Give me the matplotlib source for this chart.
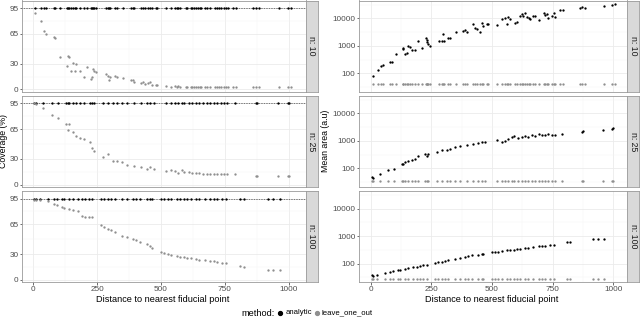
import numpy as np
import matplotlib
matplotlib.use("Agg")
import matplotlib.pyplot as plt
from matplotlib.lines import Line2D

plt.rcParams['font.family'] = ['Liberation Sans', 'DejaVu Sans']

# ---------------- data ----------------
facet_labels = ["n: 10", "n: 25", "n: 100"]

dist_n10 = [8, 31, 42, 49, 80, 87, 104, 132, 135, 142, 149, 154, 162, 169, 183, 197, 210,
            228, 231, 234, 238, 245, 283, 293, 297, 302, 320, 327, 353, 381, 389, 396,
            423, 430, 437, 451, 458, 465, 479, 485, 520, 541, 554, 561, 568, 575, 596,
            603, 616, 623, 630, 637, 644, 651, 658, 671, 678, 692, 713, 720, 726, 733,
            747, 754, 761, 781, 795, 861, 871, 884, 963, 995, 1008]
cov_loo_n10 = [89, 80, 68, 65, 61, 60.5, 37.5, 27, 39.5, 38.4, 21, 31, 21, 29.7, 22, 15, 26.5,
               12, 15, 24, 21, 20, 18, 15.8, 11, 15, 16, 14, 13, 11, 11.5, 8,
               7.5, 8.5, 6.5, 7, 8, 5, 4.5, 5, 4, 3.2, 3.5, 3, 3.3, 2.8, 3,
               3.2, 2.8, 3, 3.1, 2.7, 3, 2.9, 3.2, 2.8, 3, 2.6, 2.8, 3, 2.7, 2.9,
               2.6, 2.8, 2.7, 2.6, 2.7, 2.6, 2.5, 2.6, 2.5, 2.5, 2.4]
area_an_n10 = [81, 132, 190, 200, 250, 250, 500, 750, 810, 500, 530, 1000, 930, 700, 700, 1480, 810,
               1950, 1620, 1410, 1120, 1000, 1540, 1540, 2620, 1540, 1870, 1960, 3160, 3450, 3750, 3100,
               6000, 4300, 4100, 3100, 6900, 5400, 6000, 6200, 5700, 9400, 10000, 6000, 11000, 9400, 6700,
               7100, 12000, 14000, 12500, 16000, 11000, 10000, 9400, 12500, 12000, 8700, 15000, 13000, 14000, 10000,
               12500, 16000, 11000, 20000, 20000, 23000, 25000, 24500, 29000, 31000, 32000]

dist_n25 = [4, 11, 38, 73, 96, 128, 135, 142, 155, 169, 183, 197, 224, 231, 238, 272, 293, 314,
            327, 348, 369, 396, 423, 444, 458, 472, 520, 541, 554, 568, 582, 589, 609, 623,
            637, 650, 664, 678, 692, 706, 719, 733, 747, 760, 788, 871, 877, 957, 995, 1001]
cov_loo_n25 = [95, 94, 90, 82, 78.5, 70.6, 64, 70.6, 62, 57, 55, 53, 50, 43, 39, 32, 36, 28,
               27.4, 26, 23, 21.6, 20, 18.5, 20.5, 18, 15.4, 17, 15.4, 14, 17, 15, 15, 13,
               13, 13.5, 12.5, 12.5, 12, 12.5, 12.5, 12, 12.5, 12, 12, 10.5, 10.5, 9.5, 9.5, 9.5]
area_an_n25 = [50, 46, 65, 87, 97, 140, 150, 170, 185, 200, 225, 280, 325, 280, 340, 410, 470, 490,
               530, 590, 640, 700, 810, 860, 930, 930, 1050, 930, 980, 1230, 1380, 1480, 1300, 1450,
               1550, 1450, 1650, 1550, 1750, 1600, 1700, 1850, 1650, 1700, 1750, 2150, 2300, 2600, 2800, 2850]

dist_n100 = [4, 11, 25, 59, 80, 93, 114, 121, 142, 155, 176, 190, 204, 217, 231, 265, 279, 293,
             306, 320, 348, 369, 389, 403, 417, 444, 458, 465, 499, 513, 527, 541, 561, 575,
             589, 602, 616, 637, 650, 671, 692, 706, 719, 740, 754, 809, 823, 918, 939, 964]
cov_loo_n100 = [94, 94, 93, 92, 89, 87, 85.5, 84, 83, 82, 80.5, 75, 74, 73, 73.5, 64, 62, 60,
                58, 55.6, 51, 50, 47.5, 46, 44, 41.6, 40, 37.7, 33, 31, 30.5, 29, 28, 27,
                26.5, 25.5, 25, 24, 23.5, 23, 22, 21.5, 21, 20, 19.5, 15.5, 14.4, 11.7, 11.7, 11.7]
area_an_n100 = [39, 37, 39, 46, 51, 55, 60, 58, 66, 69, 76, 79, 83, 86, 89, 107, 113, 120,
                128, 135, 150, 160, 175, 190, 205, 215, 230, 225, 263, 260, 275, 295, 310, 310,
                325, 335, 350, 370, 370, 400, 430, 450, 450, 470, 490, 590, 620, 760, 780, 780]

cov_analytic = [95, 95, 95]          # analytic coverage per facet
area_loo = [40, 35, 28]              # leave-one-out mean area per facet

dists = [dist_n10, dist_n25, dist_n100]
cov_loo = [cov_loo_n10, cov_loo_n25, cov_loo_n100]
area_an = [area_an_n10, area_an_n25, area_an_n100]

x_ticks = [0, 250, 500, 750, 1000]
cov_ticks = [0, 30, 65, 95]
area_ticks = [100, 1000, 10000]

# ---------------- style ----------------
W, H = 640, 319
fig = plt.figure(figsize=(W / 100, H / 100), dpi=100)

BLACK = '#000000'
GREY_PT = '#8f8f8f'
BORDER = '#9a9a9a'
STRIP = '#d9d9d9'
GRID_MAJ = '#ebebeb'
GRID_MIN = '#f4f4f4'
TICKCOL = '#4d4d4d'
TICK_FS = 5.9

rows_px = [(0.5, 91.7), (95.7, 186.9), (190.9, 282.1)]
left_px = (22, 305.5)
right_px = (359, 627.3)
strip_l = (305.5, 317.5)
strip_r = (627.3, 639.3)


def fx(px):
    return px / W


def rect(xr, yr):
    return [fx(xr[0]), 1 - yr[1] / H, fx(xr[1] - xr[0]), (yr[1] - yr[0]) / H]


def style_axes(ax):
    ax.set_facecolor('white')
    for s in ax.spines.values():
        s.set_color(BORDER)
        s.set_linewidth(0.6)
    ax.tick_params(axis='both', length=1.8, width=0.5, color='#333333', pad=0.8,
                   labelsize=TICK_FS, labelcolor=TICKCOL)
    ax.set_axisbelow(True)
    ax.grid(which='major', color=GRID_MAJ, lw=0.6)
    ax.grid(which='minor', color=GRID_MIN, lw=0.35)
    ax.tick_params(which='minor', length=0)


def add_strip(xr, yr, label):
    sax = fig.add_axes(rect(xr, yr))
    sax.set_facecolor(STRIP)
    sax.set_xticks([])
    sax.set_yticks([])
    for s in sax.spines.values():
        s.set_color(BORDER)
        s.set_linewidth(0.6)
    sax.text(0.5, 0.5, label, rotation=-90, ha='center', va='center',
             fontsize=6.3, color='#1a1a1a', transform=sax.transAxes)


for i in range(3):
    d = np.array(dists[i])
    # ---- left: coverage ----
    ax = fig.add_axes(rect(left_px, rows_px[i]))
    style_axes(ax)
    ax.axhline(95, color='black', lw=0.5, ls=(0, (1, 1.4)), zorder=2)
    ax.scatter(d, np.full(len(d), cov_analytic[i]), s=2.8, c=BLACK, linewidths=0, zorder=3)
    ax.scatter(d, cov_loo[i], s=2.8, c=GREY_PT, linewidths=0, zorder=3)
    ax.set_xlim(-43.5, 1065)
    ax.set_ylim(-2.8, 104.1)
    ax.set_yticks(cov_ticks)
    ax.set_yticks([15, 47.5, 80], minor=True)
    ax.set_xticks(x_ticks)
    ax.set_xticks([125, 375, 625, 875], minor=True)
    if i < 2:
        ax.tick_params(axis='x', labelbottom=False, length=0)
    add_strip(strip_l, rows_px[i], facet_labels[i])

    # ---- right: mean area ----
    ax2 = fig.add_axes(rect(right_px, rows_px[i]))
    style_axes(ax2)
    ax2.set_yscale('log')
    ax2.scatter(d, area_an[i], s=2.8, c=BLACK, linewidths=0, zorder=3)
    ax2.scatter(d, np.full(len(d), area_loo[i]), s=2.8, c=GREY_PT, linewidths=0, zorder=3)
    ax2.set_xlim(-48, 1058)
    ax2.set_ylim(21.4, 44400)
    ax2.set_yticks(area_ticks)
    ax2.set_yticklabels([str(t) for t in area_ticks])
    ax2.set_yticks([10 ** 1.5, 10 ** 2.5, 10 ** 3.5, 10 ** 4.5], minor=True)
    ax2.yaxis.set_minor_formatter(matplotlib.ticker.NullFormatter())
    ax2.set_xticks(x_ticks)
    ax2.set_xticks([125, 375, 625, 875], minor=True)
    if i < 2:
        ax2.tick_params(axis='x', labelbottom=False, length=0)
    add_strip(strip_r, rows_px[i], facet_labels[i])

# axis titles
fig.text(fx(163), 1 - 299 / H, "Distance to nearest fiducial point", ha='center', va='center',
         fontsize=6.6, color='black')
fig.text(fx(492), 1 - 299 / H, "Distance to nearest fiducial point", ha='center', va='center',
         fontsize=6.6, color='black')
fig.text(fx(3.8), 1 - 141 / H, "Coverage (%)", rotation=90, ha='center', va='center',
         fontsize=6.3, color='black')
fig.text(fx(325), 1 - 141 / H, "Mean area (a.u)", rotation=90, ha='center', va='center',
         fontsize=6.3, color='black')

# legend
ly = 1 - 313 / H
fig.text(fx(241.5), ly, "method:", ha='left', va='center', fontsize=6.6, color='black')
fig.add_artist(Line2D([fx(280)], [ly], marker='o', ms=2.8, color=BLACK, lw=0,
                      transform=fig.transFigure))
fig.text(fx(286), ly, "analytic", ha='left', va='center', fontsize=5.6, color='black')
fig.add_artist(Line2D([fx(316.5)], [ly], marker='o', ms=2.8, color=GREY_PT, lw=0,
                      transform=fig.transFigure))
fig.text(fx(322), ly, "leave_one_out", ha='left', va='center', fontsize=5.6, color='black')

fig.savefig("out.png", dpi=100, facecolor='white')
